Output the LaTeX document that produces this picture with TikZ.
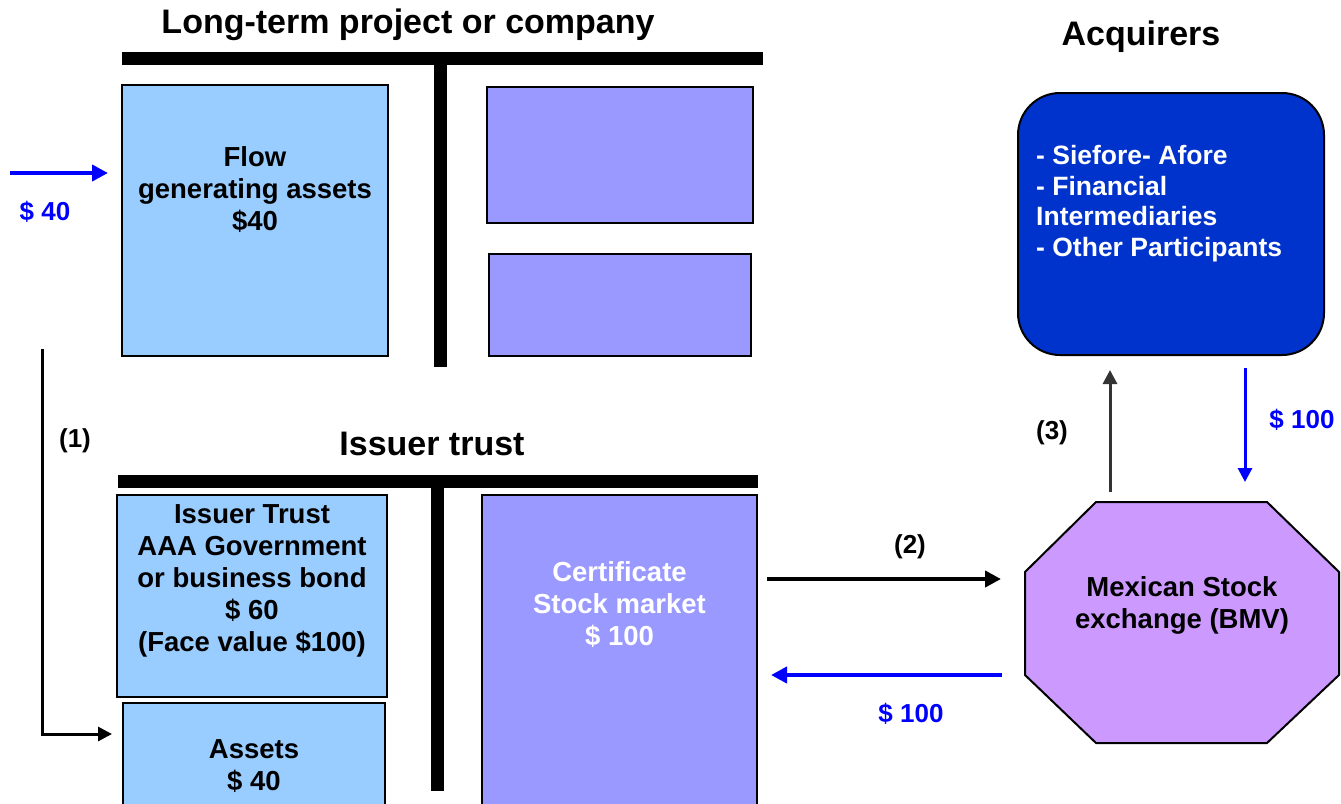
\documentclass[tikz,border=0pt]{standalone}
\usepackage{fontspec}
\setmainfont{Liberation Sans}
\usetikzlibrary{arrows.meta, positioning}

\definecolor{lightbox}{HTML}{99CCFF}
\definecolor{violetbox}{HTML}{9999FF}
\definecolor{acqblue}{HTML}{0033CC}
\definecolor{bmvlilac}{HTML}{CC99FF}
\definecolor{money}{HTML}{0000FF}

\tikzset{
  box/.style={draw, line width=2pt, inner sep=0pt},
  bar/.style={line width=13pt},
  boxtxt/.style={font=\fontsize{27.5}{32}\selectfont\bfseries, align=center},
  title/.style={font=\fontsize{34}{38}\selectfont\bfseries},
  lbl/.style={font=\fontsize{26}{28}\selectfont\bfseries},
  arr/.style={line width=4pt, -{Triangle[length=16pt,width=16pt]}},
}

\begin{document}
\begin{tikzpicture}[x=1pt, y=-1pt]

            \useasboundingbox (0,0) rectangle (1341,803);

            % long-term project
            \node[title] (ltitle) at (408,25) {Long-term project or company};
            \draw[bar] (122,58.5) -- (763,58.5);
            \draw[bar] (440.5,52) -- (440.5,367);
            \node[box, fill=lightbox, minimum width=266pt, minimum height=271pt] (flow) at (255,220.5) {};
            \node[boxtxt] (flowtxt) at (255,190) {Flow\\generating assets\\\$40};
            \node[box, fill=violetbox, minimum width=266pt, minimum height=136pt] (side1) at (620,155) {};
            \node[box, fill=violetbox, minimum width=262pt, minimum height=102pt] (side2) at (620,305) {};

            % issuer trust
            \node[title] (ititle) at (432,444) {Issuer trust};
            \draw[bar] (118,481.5) -- (758,481.5);
            \draw[bar] (437,476) -- (437,791);
            \node[box, fill=lightbox, minimum width=270pt, minimum height=202pt] (trust) at (252,596) {};
            \node[boxtxt] (trusttxt) at (252,581) {Issuer Trust\\AAA Government\\or business bond\\\$ 60\\(Face value \$100)};
            \node[box, fill=lightbox, minimum width=262pt, minimum height=120pt] (assets) at (254,763) {};
            \node[boxtxt] (assetstxt) at (254,766) {Assets\\\$ 40};
            \node[box, fill=violetbox, minimum width=275pt, minimum height=330pt] (cert) at (619.5,660) {};
            \node[boxtxt, text=white] (certtxt) at (619.5,605) {Certificate\\Stock market\\\$ 100};

            % acquirers
            \node[title] (atitle) at (1141,37) {Acquirers};
            \node[box, fill=acqblue, rounded corners=42pt, minimum width=306pt, minimum height=262pt] (acq) at (1171,224) {};
            \node[font=\fontsize{26.5}{30.5}\selectfont\bfseries, text=white, align=left, anchor=west, inner sep=0pt] (acqtxt) at (1036,203.5)
              {- Siefore- Afore\\- Financial\\Intermediaries\\- Other Participants};

            % stock exchange
            \draw[line width=2pt, fill=bmvlilac] (1096,502) -- (1267,502) -- (1339,572) -- (1339,675)
              -- (1267,743) -- (1096,743) -- (1025,675) -- (1025,572) -- cycle;
            \coordinate (bmv) at (1182,622.5);
            \node[boxtxt] (bmvtxt) at (1182,605.5) {Mexican Stock\\exchange (BMV)};

            % flows
            \coordinate (in40) at (10,173);
            \coordinate (in40end) at (108,173);
            \draw[arr, money] (in40) -- (in40end);
            \node[lbl, text=money] (l40) at (45,212) {\$ 40};

            \coordinate (s1) at (42,349);
            \coordinate (s1end) at (112,734);
            \draw[line width=3pt, -{Triangle[length=14pt,width=14pt]}] (s1) -- (s1 |- s1end) -- (s1end);
            \node[lbl] (l1) at (75,441) {(1)};

            \coordinate (s2a) at (767,579);
            \coordinate (s2b) at (1001,579);
            \draw[arr] (s2a) -- (s2b);
            \node[lbl] (l2) at (910,547) {(2)};

            \coordinate (p1a) at (1002,675);
            \coordinate (p1b) at (771,675);
            \draw[arr, money] (p1a) -- (p1b);
            \node[lbl, text=money] (l100a) at (911,714) {\$ 100};

            \coordinate (s3a) at (1110,492);
            \coordinate (s3b) at (1110,370);
            \draw[line width=3pt, black!80, -{Triangle[length=14pt,width=14pt]}] (s3a) -- (s3b);
            \node[lbl] (l3) at (1052,433) {(3)};

            \coordinate (p2a) at (1245,368);
            \coordinate (p2b) at (1245,482);
            \draw[line width=3pt, money, -{Triangle[length=14pt,width=14pt]}] (p2a) -- (p2b);
            \node[lbl, text=money] (l100b) at (1302,420) {\$ 100};

\end{tikzpicture}
\end{document}
